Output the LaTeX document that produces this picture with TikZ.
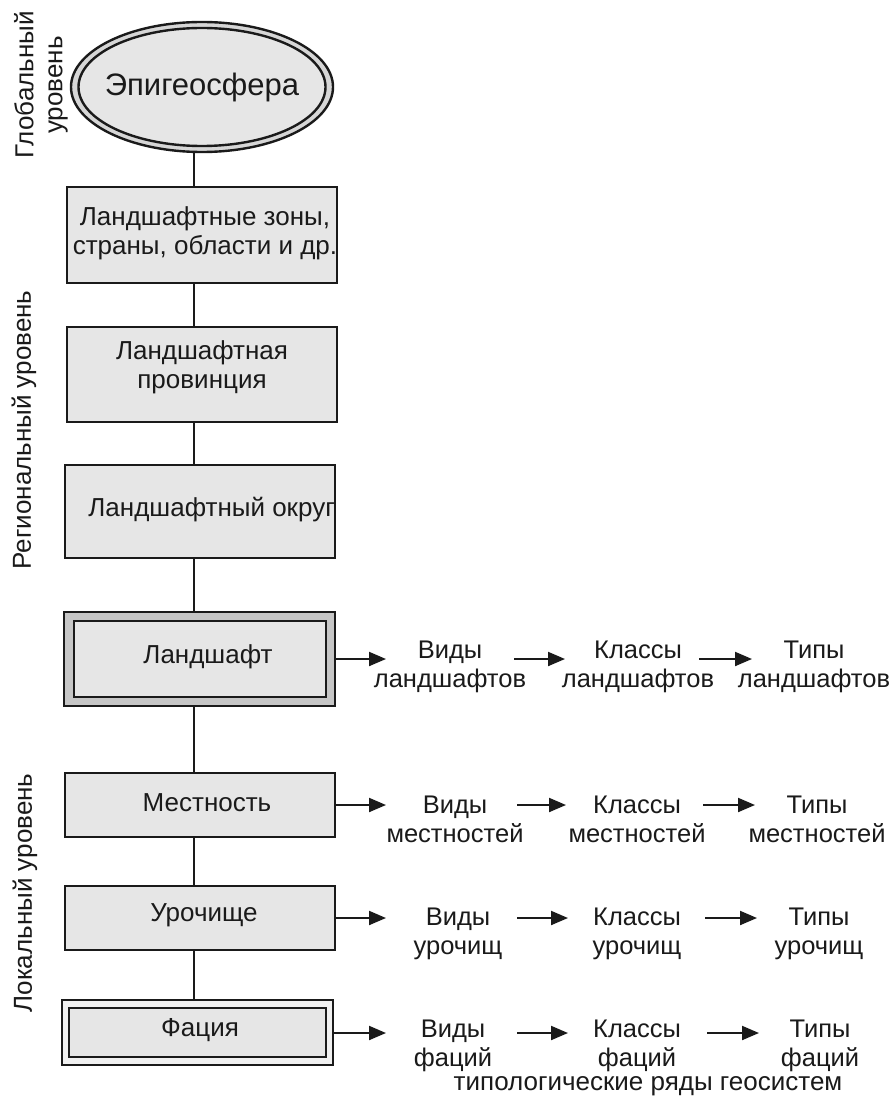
\documentclass[tikz,border=0pt]{standalone}
\usepackage{fontspec}
\setmainfont{Liberation Sans}
\usetikzlibrary{arrows.meta,calc,shapes.geometric}
\definecolor{boxfill}{HTML}{E6E6E6}
\definecolor{bandfill}{HTML}{C6C6C6}
\definecolor{lightband}{HTML}{F0F0F0}
\definecolor{ellband}{HTML}{D6D6D6}
\definecolor{ink}{HTML}{1A1A1A}
\begin{document}
\begin{tikzpicture}[x=1pt,y=-1pt,
  box/.style={draw=ink, line width=2pt, fill=boxfill, inner sep=0pt, text=ink, align=center},
  frame/.style={draw=ink, line width=2pt, inner sep=0pt},
  ell/.style={ellipse, draw=ink, line width=2.4pt, inner sep=0pt},
  txt/.style={font=\fontsize{26}{29}\selectfont, text=ink, align=center, inner sep=0pt},
  lbl/.style={font=\fontsize{25.5}{29}\selectfont, align=center, text=ink, inner sep=0pt},
  side/.style={font=\fontsize{26}{29}\selectfont, rotate=90, align=center, text=ink, inner sep=0pt},
  conn/.style={draw=ink, line width=2pt},
  arr/.style={conn, -{Triangle[length=17pt,width=14pt]}}]
\fill[white] (0,0) rectangle (891,1099);
\useasboundingbox (0,0) rectangle (891,1099);

% level labels
\node[side] (glob) at (41,85) {Глобальный\\уровень};
\node[side] (reg) at (24,430) {Региональный уровень};
\node[side] (loc) at (25,893) {Локальный уровень};

% spine
\coordinate (sp) at (194,0);

% ellipse
\node[ell, fill=ellband, minimum width=262, minimum height=130] (epi) at (202,87) {};
\node[ell, fill=boxfill, minimum width=247, minimum height=118] (epiin) at (202,87) {};
\node[txt, font=\fontsize{31}{36}\selectfont] (epit) at (202,87) {Эпигеосфера};

% boxes
\node[box, minimum width=270, minimum height=96] (b1) at (202,235) {};
\node[txt] (b1t) at (205,233) {Ландшафтные зоны,\\страны, области и др.};
\node[box, minimum width=270, minimum height=95] (b2) at (202,374.5) {};
\node[txt] (b2t) at (202,367) {Ландшафтная\\провинция};
\node[box, minimum width=270, minimum height=93] (b3) at (200,511.5) {};
\node[txt, anchor=east] (b3t) at (335,510) {Ландшафтный округ};

\node[frame, fill=bandfill, minimum width=271, minimum height=94] (land) at (199.5,659) {};
\node[box, minimum width=252, minimum height=76] (landin) at (200,659) {};
\node[txt] (landt) at (208,657) {Ландшафт};

\node[box, minimum width=270, minimum height=64] (mest) at (200,805) {};
\node[txt] (mestt) at (207,803) {Местность};
\node[box, minimum width=270, minimum height=64] (uro) at (200,918) {};
\node[txt] (urot) at (204,915) {Урочище};

\node[frame, line width=1.5pt, fill=lightband, minimum width=271, minimum height=65] (fac) at (197.5,1032.5) {};
\node[box, line width=2.4pt, minimum width=257, minimum height=49] (facin) at (197.5,1032.5) {};
\node[txt] (fact) at (200,1030) {Фация};

% vertical connectors
\draw[conn] (epi.south -| sp) -- (b1.north -| sp);
\draw[conn] (b1.south -| sp) -- (b2.north -| sp);
\draw[conn] (b2.south -| sp) -- (b3.north -| sp);
\draw[conn] (b3.south -| sp) -- (land.north -| sp);
\draw[conn] (land.south -| sp) -- (mest.north -| sp);
\draw[conn] (mest.south -| sp) -- (uro.north -| sp);
\draw[conn] (uro.south -| sp) -- (fac.north -| sp);

% typological rows
% row 1
\node[lbl] (v1) at (450,667) {Виды\\ландшафтов};
\node[lbl] (k1) at (638,667) {Классы\\ландшафтов};
\node[lbl] (t1) at (814,667) {Типы\\ландшафтов};
\coordinate (r1a) at (386,659);
\coordinate (r1b) at (514,659);
\coordinate (r1c) at (565,659);
\coordinate (r1d) at (699,659);
\coordinate (r1e) at (752,659);
\draw[arr] (land.east |- r1a) -- (r1a);
\draw[arr] (r1b) -- (r1c);
\draw[arr] (r1d) -- (r1e);
% row 2
\node[lbl] (v2) at (455,819) {Виды\\местностей};
\node[lbl] (k2) at (637,819) {Классы\\местностей};
\node[lbl] (t2) at (817,819) {Типы\\местностей};
\coordinate (r2a) at (386,805);
\coordinate (r2b) at (517,805);
\coordinate (r2c) at (566,805);
\coordinate (r2d) at (703,805);
\coordinate (r2e) at (755,805);
\draw[arr] (mest.east |- r2a) -- (r2a);
\draw[arr] (r2b) -- (r2c);
\draw[arr] (r2d) -- (r2e);
% row 3
\node[lbl] (v3) at (458,934) {Виды\\урочищ};
\node[lbl] (k3) at (637,934) {Классы\\урочищ};
\node[lbl] (t3) at (819,934) {Типы\\урочищ};
\coordinate (r3a) at (386,918);
\coordinate (r3b) at (517,918);
\coordinate (r3c) at (568,918);
\coordinate (r3d) at (705,918);
\coordinate (r3e) at (757,918);
\draw[arr] (uro.east |- r3a) -- (r3a);
\draw[arr] (r3b) -- (r3c);
\draw[arr] (r3d) -- (r3e);
% row 4
\node[lbl] (v4) at (453,1046) {Виды\\фаций};
\node[lbl] (k4) at (637,1046) {Классы\\фаций};
\node[lbl] (t4) at (820,1046) {Типы\\фаций};
\coordinate (r4a) at (386,1033);
\coordinate (r4b) at (517,1033);
\coordinate (r4c) at (568,1033);
\coordinate (r4d) at (707,1033);
\coordinate (r4e) at (759,1033);
\draw[arr] (fac.east |- r4a) -- (r4a);
\draw[arr] (r4b) -- (r4c);
\draw[arr] (r4d) -- (r4e);

\node[lbl, font=\fontsize{26}{29}\selectfont] (foot) at (648,1086) {типологические ряды геосистем};
\end{tikzpicture}
\end{document}
